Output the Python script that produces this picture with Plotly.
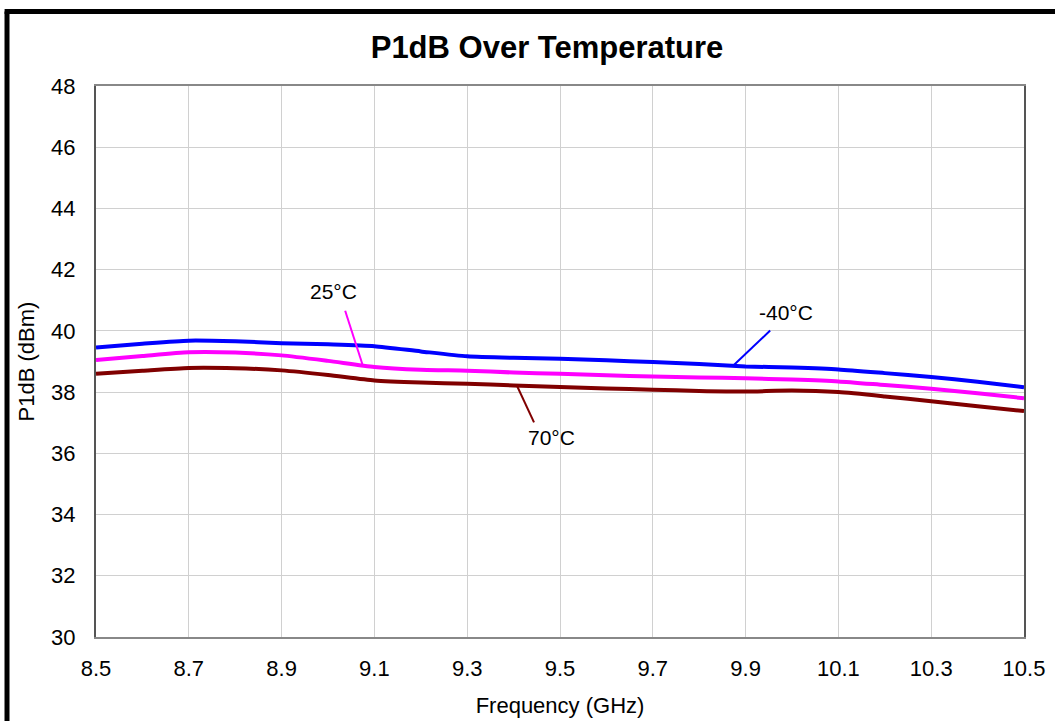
import numpy as np
import plotly.graph_objects as go

# Frequency sweep (GHz)
freq = [8.5, 8.6, 8.7, 8.8, 8.9, 9.0, 9.1, 9.2, 9.3, 9.4, 9.5,
        9.6, 9.7, 9.8, 9.9, 10.0, 10.1, 10.2, 10.3, 10.4, 10.5]

# P1dB (dBm) per temperature
p1db_m40 = [39.46, 39.58, 39.68, 39.66, 39.60, 39.56, 39.50, 39.33, 39.17, 39.12, 39.09,
            39.04, 38.98, 38.92, 38.84, 38.80, 38.74, 38.62, 38.49, 38.34, 38.16]
p1db_25 = [39.05, 39.18, 39.30, 39.29, 39.20, 39.02, 38.82, 38.73, 38.70, 38.64, 38.60,
           38.55, 38.51, 38.48, 38.45, 38.41, 38.35, 38.23, 38.11, 37.96, 37.80]
p1db_70 = [38.60, 38.70, 38.79, 38.78, 38.71, 38.56, 38.38, 38.31, 38.27, 38.22, 38.17,
           38.12, 38.08, 38.04, 38.02, 38.05, 38.00, 37.86, 37.70, 37.54, 37.38]

x_ticks = [8.5, 8.7, 8.9, 9.1, 9.3, 9.5, 9.7, 9.9, 10.1, 10.3, 10.5]
y_ticks = [30, 32, 34, 36, 38, 40, 42, 44, 46, 48]

series = [
    ("-40°C", p1db_m40, "#0000FF"),
    ("25°C", p1db_25, "#FF00FF"),
    ("70°C", p1db_70, "#800000"),
]

FONT = "Liberation Sans, Arial, sans-serif"

fig = go.Figure()
for name, vals, color in series:
    fig.add_trace(go.Scatter(
        x=freq, y=vals, mode="lines", name=name,
        line=dict(color=color, width=4, shape="spline", smoothing=0.6),
        showlegend=False,
    ))

# Callout labels: (label, values, color, tip freq, line-end (f, dBm), text (f, dBm))
callouts = [
    ("25°C", p1db_25, "#FF00FF", 9.075, (9.037, 40.66), (9.011, 41.29)),
    ("-40°C", p1db_m40, "#0000FF", 9.873, (9.953, 40.01), (9.987, 40.60)),
    ("70°C", p1db_70, "#800000", 9.407, (9.444, 37.01), (9.481, 36.52)),
]
shapes = []
annotations = []
for label, vals, color, f_tip, (f_end, v_end), (f_txt, v_txt) in callouts:
    v_tip = float(np.interp(f_tip, freq, vals))
    shapes.append(dict(type="line", xref="x", yref="y",
                       x0=f_tip, y0=v_tip, x1=f_end, y1=v_end,
                       line=dict(color=color, width=2)))
    annotations.append(dict(x=f_txt, y=v_txt, xref="x", yref="y", text=label,
                            showarrow=False, font=dict(family=FONT, size=21, color="#000000")))

# Outer frame (left and top edges)
shapes.append(dict(type="line", xref="paper", yref="paper",
                   x0=-0.0959, y0=-0.3, x1=-0.0959, y1=1.135,
                   line=dict(color="#000000", width=5)))
shapes.append(dict(type="line", xref="paper", yref="paper",
                   x0=-0.0985, y0=1.135, x1=1.2, y1=1.135,
                   line=dict(color="#000000", width=5)))

fig.update_layout(
    width=1055, height=721,
    margin=dict(l=96, r=31, t=86, b=84),
    paper_bgcolor="#FFFFFF", plot_bgcolor="#FFFFFF",
    font=dict(family=FONT, color="#000000"),
    title=dict(text="<b>P1dB Over Temperature</b>", x=0.5185, xanchor="center",
               y=1 - 47 / 721, yanchor="middle", yref="container",
               font=dict(family=FONT, size=31, color="#000000")),
    shapes=shapes,
    annotations=annotations,
)

fig.update_xaxes(
    range=[8.5, 10.5], tickvals=x_ticks, ticktext=[f"{v:g}" for v in x_ticks],
    showgrid=True, gridcolor="#D0D0D0", gridwidth=1,
    showline=True, linecolor="#888888", linewidth=2, mirror=True,
    ticks="", ticklabelstandoff=11, zeroline=False, automargin=False,
    tickfont=dict(family=FONT, size=22, color="#000000"),
    title=dict(text="Frequency (GHz)", standoff=17,
               font=dict(family=FONT, size=22, color="#000000")),
)
fig.update_yaxes(
    range=[30, 48], tickvals=y_ticks,
    showgrid=True, gridcolor="#D0D0D0", gridwidth=1,
    showline=True, linecolor="#555555", linewidth=2, mirror=True,
    ticks="", ticklabelstandoff=14, zeroline=False, automargin=False,
    tickfont=dict(family=FONT, size=22, color="#000000"),
    title=dict(text="P1dB (dBm)", standoff=10,
               font=dict(family=FONT, size=22, color="#000000")),
)

fig.write_html("out.html")
